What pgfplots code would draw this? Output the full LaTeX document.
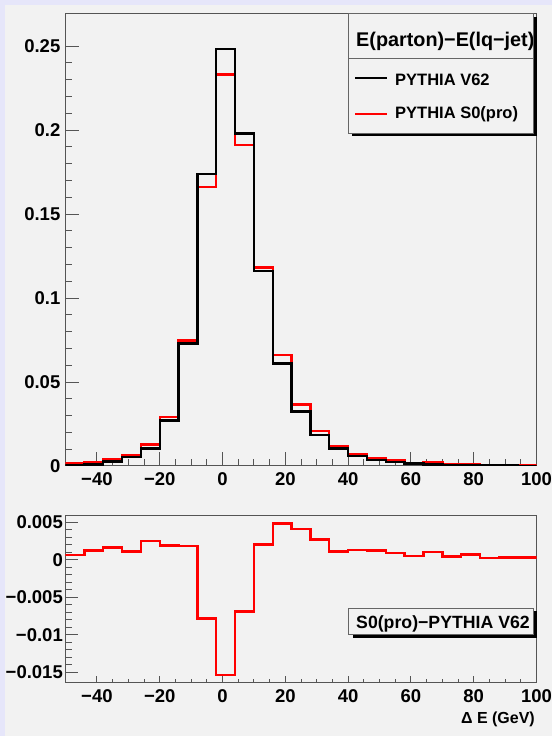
\documentclass[border=0pt]{standalone}
\usepackage{pgfplots}
\pgfplotsset{compat=1.18}
\usepackage{fontspec}
\setmainfont{Liberation Sans}
\definecolor{bg}{RGB}{242,242,242}
\definecolor{lav}{RGB}{230,230,250}
\definecolor{axc}{RGB}{85,85,85}

\pgfplotstableread{
x v62 s0
-50 0.0006 0.0014
-44 0.0010 0.0022
-38 0.0026 0.0042
-32 0.0052 0.0062
-26 0.0104 0.0129
-20 0.0272 0.0291
-14 0.0730 0.0747
-8  0.1740 0.1660
-2  0.2484 0.2331
4   0.1979 0.1910
10  0.1162 0.1182
16  0.0611 0.0659
22  0.0324 0.0365
28  0.0183 0.0210
34  0.0105 0.0116
40  0.0060 0.0073
46  0.0036 0.0048
52  0.0024 0.0033
58  0.0014 0.0019
64  0.0010 0.0020
70  0.0006 0.0010
76  0.0004 0.0011
82  0.0003 0.0005
88  0.0002 0.0005
94  0.0001 0.0004
100 0.0001 0.0004
}\histtab

\pgfplotstableread{
x d
-50 0.00066
-44 0.0012
-38 0.0016
-32 0.0011
-26 0.0025
-20 0.0019
-14 0.0018
-8  -0.0078
-2  -0.0153
4   -0.0069
10  0.0020
16  0.0048
22  0.0041
28  0.0027
34  0.0011
40  0.0013
46  0.0012
52  0.0009
58  0.0005
64  0.0010
70  0.0004
76  0.0007
82  0.0002
88  0.0003
94  0.0003
100 0.0003
}\difftab

\pgfplotsset{rootaxis/.style={
  scale only axis, width=471pt,
  xmin=-50, xmax=100,
  axis line style={axc, line width=1pt},
  tick style={axc, line width=1pt},
  tick align=inside,
  xtick pos=left, ytick pos=left,
  xtick={-40,-20,0,20,40,60,80,100},
  xticklabels={−40,−20,0,20,40,60,80,100},
  minor x tick num=3,
  ticklabel style={font=\fontsize{18.5}{18.5}\selectfont\bfseries, inner sep=0pt},
  scaled ticks=false,
  axis background/.style={fill=bg},
}}

\begin{document}
\begin{tikzpicture}[x=1pt,y=1pt]
\useasboundingbox (0,0) rectangle (552,736);
\fill[lav] (0,0) rectangle (552,736);
\fill[bg] (5,0) rectangle (552,731);

% upper pad
\begin{axis}[rootaxis, at={(65.5pt,270pt)}, anchor=south west,
  height=452.7pt, ymin=0, ymax=0.2695,
  ytick={0,0.05,0.1,0.15,0.2,0.25},
  yticklabels={0,0.05,0.1,0.15,0.2,0.25},
  minor y tick num=4,
  major tick length=13.5pt, minor tick length=7pt,
  yticklabel style={anchor=east, xshift=-5pt},
  xticklabel style={anchor=north, yshift=-6.5pt},
]
\addplot[const plot, red, line width=2.4pt] table[x=x,y=s0]{\histtab};
\addplot[const plot, black, line width=2.4pt] table[x=x,y=v62]{\histtab};
\end{axis}

% lower pad
\begin{axis}[rootaxis, at={(65.5pt,53.7pt)}, anchor=south west,
  height=167pt, ymin=-0.0163, ymax=0.0059,
  ytick={-0.015,-0.01,-0.005,0,0.005},
  yticklabels={−0.015,−0.01,−0.005,0,0.005},
  minor y tick num=4,
  major tick length=13pt, minor tick length=6.5pt,
  xtick style={/pgfplots/major tick length=6pt,/pgfplots/minor tick length=3pt},
  yticklabel style={anchor=east, xshift=-2.5pt},
  xticklabel style={anchor=north, yshift=-7pt},
]
\addplot[const plot, red, line width=2.4pt] table[x=x,y=d]{\difftab};
\end{axis}

% upper legend
\fill[black] (352,599.7) rectangle (537,719);
\filldraw[fill=bg, draw=black!60, line width=0.6pt] (348,603) rectangle (533,722.7);
\draw[black!60, line width=0.6pt] (348,678) -- (533,678);
\begin{scope}
\clip (348,678) rectangle (532.5,722.7);
\node[anchor=base west, inner sep=0pt, font=\fontsize{19.8}{21}\selectfont\bfseries] at (356,689.5) {E(parton)−E(lq−jet)};
\end{scope}
\draw[black, line width=2pt] (355,658.3) -- (386.7,658.3);
\draw[red, line width=2pt] (355,621.7) -- (386.7,621.7);
\node[anchor=base west, inner sep=0pt, font=\fontsize{16.5}{17}\selectfont\bfseries] at (395,650.7) {PYTHIA V62};
\node[anchor=base west, inner sep=0pt, font=\fontsize{16.5}{17}\selectfont\bfseries] at (395,617.7) {PYTHIA S0(pro)};

% lower legend
\fill[black] (353,98) rectangle (537,125);
\filldraw[fill=bg, draw=black!60, line width=0.6pt] (348,102) rectangle (533,128);
\node[anchor=base west, inner sep=0pt, font=\fontsize{17.7}{18}\selectfont\bfseries] at (356,107.7) {S0(pro)−PYTHIA V62};

% x label
\node[anchor=base east, inner sep=0pt, font=\fontsize{16}{17}\selectfont\bfseries] at (535,12.7) {Δ E (GeV)};
\end{tikzpicture}
\end{document}
